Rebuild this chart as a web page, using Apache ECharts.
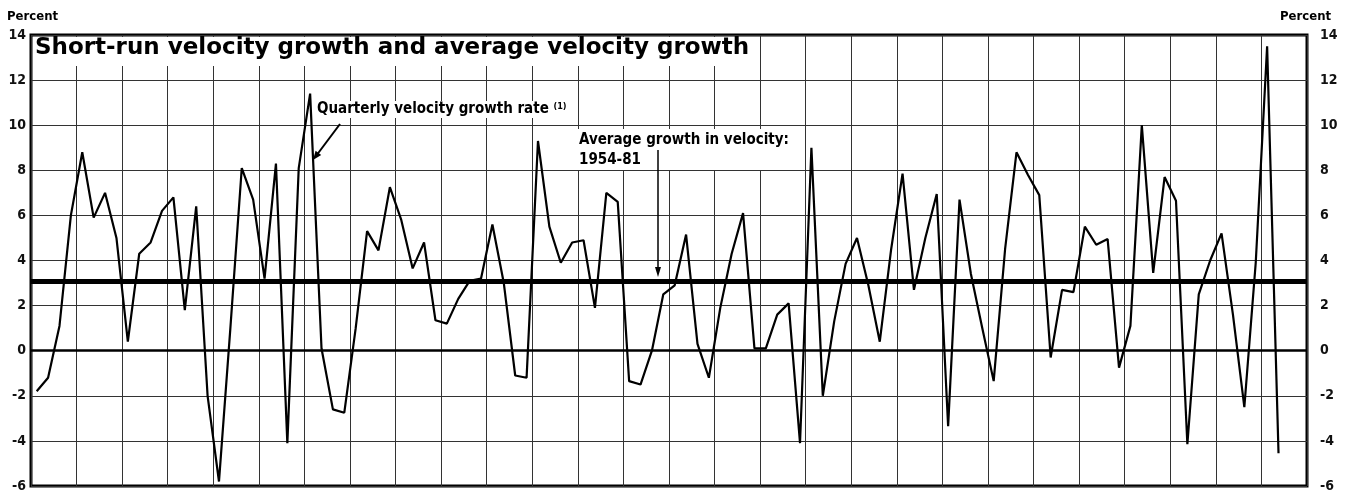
<!DOCTYPE html>
<html>
<head>
<meta charset="utf-8">
<script src="https://cdn.jsdelivr.net/npm/echarts@6/dist/echarts.min.js"></script>
<style>
  html, body { margin: 0; padding: 0; background: #fff; }
  #chart { width: 1351px; height: 493px; }
</style>
</head>
<body>
<div id="chart"></div>
<script>
// ---- data ----
var firstYear = 1954;
var lastYear = 1981;
var quarterNames = ['Q1', 'Q2', 'Q3', 'Q4'];
var yTicks = [-6, -4, -2, 0, 2, 4, 6, 8, 10, 12, 14];
var averageGrowth = 3.1; // average growth in velocity 1954-81
// Quarterly velocity growth rate, 1954Q1 .. 1981Q2 (percent, annual rate)
var velocityGrowth = [
  -1.8, -1.2, 1.1, 6.0, 8.8, 5.9, 7.0, 5.0, 0.4, 4.3,
   4.8, 6.2, 6.8, 1.8, 6.4, -2.0, -5.8, 1.0, 8.1, 6.7,
   3.2, 8.3, -4.1, 8.1, 11.4, 0.1, -2.6, -2.75, 1.0, 5.3,
   4.45, 7.25, 5.8, 3.65, 4.8, 1.35, 1.2, 2.3, 3.1, 3.2,
   5.6, 3.0, -1.1, -1.2, 9.3, 5.5, 3.9, 4.8, 4.9, 1.9,
   7.0, 6.6, -1.35, -1.5, 0.0, 2.5, 2.9, 5.15, 0.3, -1.2,
   1.9, 4.3, 6.1, 0.1, 0.1, 1.6, 2.1, -4.1, 9.0, -2.0,
   1.3, 3.85, 5.0, 2.9, 0.4, 4.5, 7.85, 2.7, 5.0, 6.95,
   -3.35, 6.7, 3.4, 1.0, -1.35, 4.5, 8.8, 7.8, 6.9, -0.3,
   2.7, 2.6, 5.5, 4.7, 4.95, -0.75, 1.1, 10.0, 3.45, 7.7,
   6.65, -4.15, 2.5, 4.0, 5.2, 1.6, -2.5, 3.9, 13.5, -4.55
];
var titleText = 'Short-run velocity growth and average velocity growth';
var seriesLabel = 'Quarterly velocity growth rate';
var avgLabel1 = 'Average growth in velocity:';
var avgLabel2 = '1954-81';
var unitLabel = 'Percent';

// categories built from the year range
var quarters = [];
for (var y = firstYear; y <= lastYear; y++) {
  for (var q = 0; q < 4; q++) quarters.push(y + quarterNames[q]);
}

var chart = echarts.init(document.getElementById('chart'), null, { renderer: 'canvas' });

var labelFont = {
  fontFamily: 'DejaVu Sans Condensed',
  fontWeight: 'bold',
  fontSize: 14,
  color: '#111'
};
var annFont = 'bold 15px "DejaVu Sans Condensed"';

function arrowHead(tipX, tipY, fromX, fromY, len, half) {
  var dx = tipX - fromX, dy = tipY - fromY;
  var d = Math.sqrt(dx * dx + dy * dy);
  var ux = dx / d, uy = dy / d;
  var bx = tipX - ux * len, by = tipY - uy * len;
  return [[tipX, tipY], [bx - uy * half, by + ux * half], [bx + uy * half, by - ux * half]];
}

var option = {
  backgroundColor: '#fff',
  animation: false,
  grid: {
    left: 31, right: 44, top: 35, bottom: 6,
    show: true, borderColor: '#000', borderWidth: 3, backgroundColor: 'transparent'
  },
  xAxis: [
    {
      type: 'category', data: quarters, boundaryGap: true,
      axisLine: { show: false }, axisTick: { show: false }, axisLabel: { show: false },
      splitLine: { show: false }
    },
    {
      type: 'value', min: firstYear, max: lastYear + 1, interval: 1, position: 'bottom',
      axisLine: { show: false }, axisTick: { show: false }, axisLabel: { show: false },
      splitLine: { show: true, lineStyle: { color: '#333', width: 1 } }
    }
  ],
  yAxis: [
    {
      type: 'value', min: yTicks[0], max: yTicks[yTicks.length - 1], interval: 2,
      position: 'left',
      axisLine: { show: false }, axisTick: { show: false },
      axisLabel: Object.assign({ margin: 5, align: 'right' }, labelFont),
      splitLine: { show: true, lineStyle: { color: '#333', width: 1 } }
    },
    {
      type: 'value', min: yTicks[0], max: yTicks[yTicks.length - 1], interval: 2,
      position: 'right',
      axisLine: { show: false }, axisTick: { show: false },
      axisLabel: Object.assign({ margin: 13, align: 'left' }, labelFont),
      splitLine: { show: false }
    }
  ],
  series: [
    {
      type: 'line', name: seriesLabel, data: velocityGrowth,
      xAxisIndex: 0, yAxisIndex: 0,
      symbol: 'none', smooth: false,
      lineStyle: { color: '#000', width: 2.2 },
      z: 5,
      markLine: {
        silent: true, symbol: 'none', label: { show: false },
        data: [
          { yAxis: 0, lineStyle: { color: '#000', width: 2.5, type: 'solid' } },
          { yAxis: averageGrowth, lineStyle: { color: '#000', width: 5, type: 'solid' } }
        ]
      }
    }
  ],
  graphic: [
    { type: 'rect', z: 100, shape: { x: 33, y: 37, width: 727, height: 29 }, style: { fill: '#fff' } },
    { type: 'text', z: 101, left: 35, top: 37, style: { text: titleText, font: 'bold 23px "DejaVu Sans"', fill: '#000' } },
    { type: 'text', z: 101, left: 7, top: 10, style: { text: unitLabel, font: 'bold 13px "DejaVu Sans Condensed"', fill: '#000' } },
    { type: 'text', z: 101, left: 1280, top: 10, style: { text: unitLabel, font: 'bold 13px "DejaVu Sans Condensed"', fill: '#000' } },
    {
      type: 'text', z: 101, left: 315, top: 101,
      style: {
        text: seriesLabel + ' {s|(1)}', font: annFont, fill: '#000',
        backgroundColor: '#fff', padding: [1, 2, 1, 2],
        rich: { s: { font: 'bold 9px "DejaVu Sans Condensed"', fill: '#000', verticalAlign: 'top' } }
      }
    },
    { type: 'line', z: 101, shape: { x1: 340, y1: 124, x2: 316, y2: 156 }, style: { stroke: '#000', lineWidth: 2 } },
    { type: 'polygon', z: 101, shape: { points: arrowHead(313, 160, 340, 124, 9, 3.5) }, style: { fill: '#000' } },
    {
      type: 'text', z: 101, left: 577, top: 129,
      style: {
        text: avgLabel1 + '\n' + avgLabel2, font: annFont, fill: '#000', lineHeight: 20,
        backgroundColor: '#fff', padding: [1, 2, 0, 2]
      }
    },
    { type: 'line', z: 101, shape: { x1: 658, y1: 150, x2: 658, y2: 268 }, style: { stroke: '#000', lineWidth: 1.5 } },
    { type: 'polygon', z: 101, shape: { points: arrowHead(658, 277, 658, 150, 10, 3) }, style: { fill: '#000' } }
  ]
};

chart.setOption(option);
</script>
</body>
</html>
